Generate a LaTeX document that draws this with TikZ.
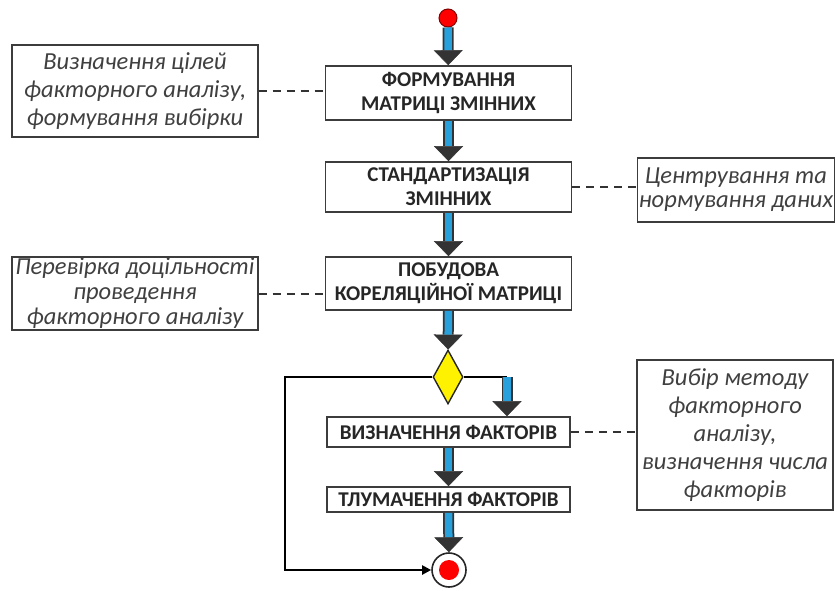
\documentclass[tikz,border=0pt]{standalone}
\usepackage{fontspec}
\setmainfont{Carlito}
\usetikzlibrary{shapes.geometric,arrows.meta}
\definecolor{flowblue}{RGB}{40,160,220}
\definecolor{edgegray}{RGB}{60,60,60}
\tikzset{
  stepbox/.style={draw=edgegray, line width=1.6pt, fill=white, text=black!85,
    font=\fontsize{21}{24}\selectfont\bfseries, align=center, inner sep=0pt,
    minimum width=246pt},
  note/.style={draw=edgegray, line width=1.4pt, text=black!75,
    font=\fontsize{24.5}{28}\selectfont\itshape, align=center, inner sep=0pt},
  flow/.style={line width=11pt, draw=black!80,
    -{Triangle[length=15pt,width=29pt,line width=0.5pt]},
    postaction={draw=flowblue, line width=7.5pt, -, shorten >=15pt}},
  link/.style={black!80, line width=2pt, dash pattern=on 8pt off 6pt},
  back/.style={black, line width=2pt},
}
\begin{document}
\begin{tikzpicture}[x=1pt,y=-1pt]
  \useasboundingbox (0,0) rectangle (837,590);
  % main column
  \node[circle, fill=red, draw=red!50!black, line width=1pt, minimum size=18pt, inner sep=0pt] (start) at (448,18) {};
  \node[stepbox, minimum height=54pt] (form) at (448.5,93) {ФОРМУВАННЯ\\МАТРИЦІ ЗМІННИХ};
  \node[stepbox, minimum height=50pt] (stand) at (448.5,187) {СТАНДАРТИЗАЦІЯ\\ЗМІННИХ};
  \node[stepbox, minimum height=53pt] (corr) at (448.5,283.5) {ПОБУДОВА\\КОРЕЛЯЦІЙНОЇ МАТРИЦІ};
  \node[diamond, fill=yellow, draw=black!85, line width=1.4pt, minimum width=30pt, minimum height=54pt, inner sep=0pt] (dec) at (448,377) {};
  \node[stepbox, minimum height=30pt, minimum width=243pt] (fact) at (448.5,432) {ВИЗНАЧЕННЯ ФАКТОРІВ};
  \node[stepbox, minimum height=25pt, minimum width=243pt] (interp) at (448.5,499.5) {ТЛУМАЧЕННЯ ФАКТОРІВ};
  \node[circle, draw=black!85, line width=1.6pt, minimum size=34pt, inner sep=0pt] (end) at (449,570) {};
  \node[circle, fill=red, minimum size=20pt, inner sep=0pt] (endin) at (end) {};
  % notes
  \node[note, minimum width=246pt, minimum height=92pt] (goal) at (135,91) {Визначення цілей\\факторного аналізу,\\формування вибірки};
  \node[note, minimum width=246pt, minimum height=73pt, font=\fontsize{24.5}{25}\selectfont\itshape] (check) at (135,293.5) {Перевірка доцільності\\проведення\\факторного аналізу};
  \node[note, minimum width=197pt, minimum height=64pt, font=\fontsize{24.5}{24}\selectfont\itshape] (center) at (736,190) {Центрування та\\нормування даних};
  \node[note, minimum width=196pt, minimum height=150pt] (method) at (735,435) {Вибір методу\\факторного\\аналізу,\\визначення числа\\факторів};
  % flow arrows
  \draw[flow] (start) -- (form);
  \draw[flow] (form) -- (stand);
  \draw[flow] (stand) -- (corr);
  \draw[flow] (corr) -- (dec);
  \draw[flow] (fact) -- (interp);
  \draw[flow] (interp) -- (end);
  % branches of the decision
  \coordinate (right) at (507,377);
  \coordinate (left) at (285,377);
  \coordinate (low) at (285,570);
  \draw[back] (dec.east) -- (right);
  \draw[flow] (right) -- (right |- fact.north);
  \draw[back, -{Triangle[length=9pt,width=9pt]}] (dec.west) -- (left) -- (low) -- (end.west);
  % dashed links to the notes
  \draw[link] (goal.east) -- (goal.east -| form.west);
  \draw[link] (stand.east) -- (stand.east -| center.west);
  \draw[link] (check.east) -- (check.east -| corr.west);
  \draw[link] (fact.east) -- (fact.east -| method.west);
\end{tikzpicture}
\end{document}
